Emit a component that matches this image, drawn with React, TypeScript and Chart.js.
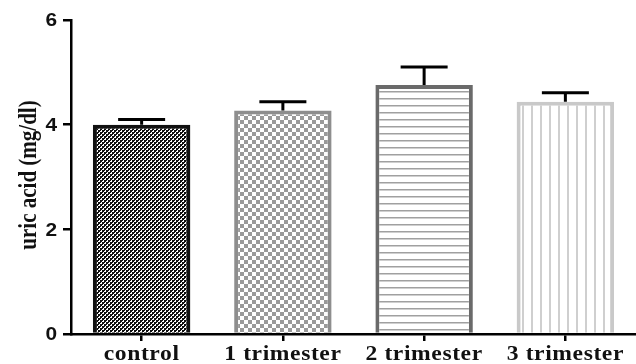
import React, { useEffect, useRef } from "react";
import { Chart, registerables } from "chart.js";

Chart.register(...registerables);

const categories = ["control", "1 trimester", "2 trimester", "3 trimester"];
const means = [4.0, 4.27, 4.76, 4.44];
const errors = [0.1, 0.17, 0.34, 0.17];
const yTicks = [0, 2, 4, 6];
const yTitle = "uric acid (mg/dl)";
const borderColors = ["#111111", "#8e8e8e", "#6a6a6a", "#c9c9c9"];

function makePattern(kind: number): CanvasPattern | string {
  const c = document.createElement("canvas");
  const g = c.getContext("2d")!;
  if (kind === 0) {
    c.width = 4; c.height = 4;
    g.fillStyle = "#ffffff"; g.fillRect(0, 0, 4, 4);
    g.fillStyle = "#101010";
    g.fillRect(0, 0, 2, 2); g.fillRect(2, 2, 2, 2);
    g.fillRect(2, 0, 1, 1); g.fillRect(0, 2, 1, 1);
  } else if (kind === 1) {
    c.width = 8; c.height = 8;
    g.fillStyle = "#ffffff"; g.fillRect(0, 0, 8, 8);
    g.fillStyle = "#9a9a9a";
    g.fillRect(0, 0, 4, 4); g.fillRect(4, 4, 4, 4);
  } else if (kind === 2) {
    c.width = 8; c.height = 7;
    g.fillStyle = "#ffffff"; g.fillRect(0, 0, 8, 7);
    g.fillStyle = "#a0a0a0";
    g.fillRect(0, 0, 8, 1.5);
  } else {
    c.width = 9; c.height = 8;
    g.fillStyle = "#ffffff"; g.fillRect(0, 0, 9, 8);
    g.fillStyle = "#cfcfcf";
    g.fillRect(0, 0, 2, 8);
  }
  return g.createPattern(c, "repeat")!;
}

const errorBarPlugin = {
  id: "errorBars",
  afterDatasetsDraw(chart: any) {
    const ctx = chart.ctx;
    const meta = chart.getDatasetMeta(0);
    const yScale = chart.scales.y;
    ctx.save();
    ctx.strokeStyle = "#000";
    ctx.lineWidth = 3;
    meta.data.forEach((bar: any, i: number) => {
      const top = yScale.getPixelForValue(means[i] + errors[i]);
      ctx.beginPath();
      ctx.moveTo(bar.x, bar.y);
      ctx.lineTo(bar.x, top);
      ctx.moveTo(bar.x - 23.5, top);
      ctx.lineTo(bar.x + 23.5, top);
      ctx.stroke();
    });
    ctx.restore();
  },
};

// Text of the reference looks horizontally stretched; draw labels with a scale transform.
const textPlugin = {
  id: "stretchedText",
  afterDraw(chart: any) {
    const ctx = chart.ctx;
    const xs = chart.scales.x;
    const ys = chart.scales.y;
    ctx.save();
    ctx.fillStyle = "#111";
    // x category labels
    ctx.font = "bold 20px 'Liberation Serif', serif";
    (ctx as any).letterSpacing = "0.5px";
    ctx.textAlign = "center";
    ctx.textBaseline = "alphabetic";
    categories.forEach((lab, i) => {
      ctx.save();
      ctx.translate(xs.getPixelForValue(i), 360);
      ctx.scale(1.18, 1);
      ctx.fillText(lab, 0, 0);
      ctx.restore();
    });
    (ctx as any).letterSpacing = "0px";
    // y tick labels
    ctx.font = "bold 19px 'Liberation Sans', Arial, sans-serif";
    ctx.textAlign = "right";
    ctx.textBaseline = "middle";
    yTicks.forEach((v) => {
      ctx.save();
      ctx.translate(ys.left + ys.width - 14, ys.getPixelForValue(v) + 1);
      ctx.scale(1.1, 1);
      ctx.fillText(String(v), 0, 0);
      ctx.restore();
    });
    // y title
    ctx.font = "bold 21px 'Liberation Serif', 'Times New Roman', serif";
    ctx.textAlign = "center";
    ctx.textBaseline = "middle";
    ctx.translate(29, 175);
    ctx.rotate(-Math.PI / 2);
    ctx.scale(1, 1.22);
    ctx.fillText(yTitle, 0, 0);
    ctx.restore();
  },
};

export default function App() {
  const ref = useRef<HTMLCanvasElement | null>(null);
  useEffect(() => {
    if (!ref.current) return;
    const chart = new Chart(ref.current, {
      type: "bar",
      data: {
        labels: categories,
        datasets: [
          {
            data: means,
            backgroundColor: [0, 1, 2, 3].map((k) => makePattern(k)) as any,
            borderColor: borderColors,
            borderWidth: 4,
            borderSkipped: "start",
            barPercentage: 0.69,
            categoryPercentage: 1,
          },
        ],
      },
      options: {
        animation: false,
        responsive: false,
        maintainAspectRatio: false,
        layout: { padding: { top: 20, right: 0, left: 0, bottom: 0 } },
        plugins: { legend: { display: false }, tooltip: { enabled: false } },
        scales: {
          x: {
            grid: {
              offset: false,
              drawOnChartArea: false,
              drawTicks: true,
              tickLength: 7,
              color: "#000",
              lineWidth: 2.5,
            },
            border: { display: true, color: "#000", width: 2.5, z: 1 },
            ticks: { display: false },
            afterFit: (s: any) => { s.height = 30; },
          },
          y: {
            min: yTicks[0],
            max: yTicks[yTicks.length - 1],
            ticks: { stepSize: yTicks[1] - yTicks[0], display: false },
            grid: {
              drawOnChartArea: false,
              drawTicks: true,
              tickLength: 8,
              color: "#000",
              lineWidth: 2.5,
            },
            border: { display: true, color: "#000", width: 2.5 },
            title: { display: false, text: yTitle },
            afterFit: (s: any) => { s.width = 71; },
          },
        },
      },
      plugins: [errorBarPlugin, textPlugin],
    });
    return () => chart.destroy();
  }, []);
  return (
    <div style={{ position: "fixed", left: 0, top: 0, width: 636, height: 364, background: "#fff" }}>
      <canvas ref={ref} width={636} height={364} style={{ display: "block" }} />
    </div>
  );
}
